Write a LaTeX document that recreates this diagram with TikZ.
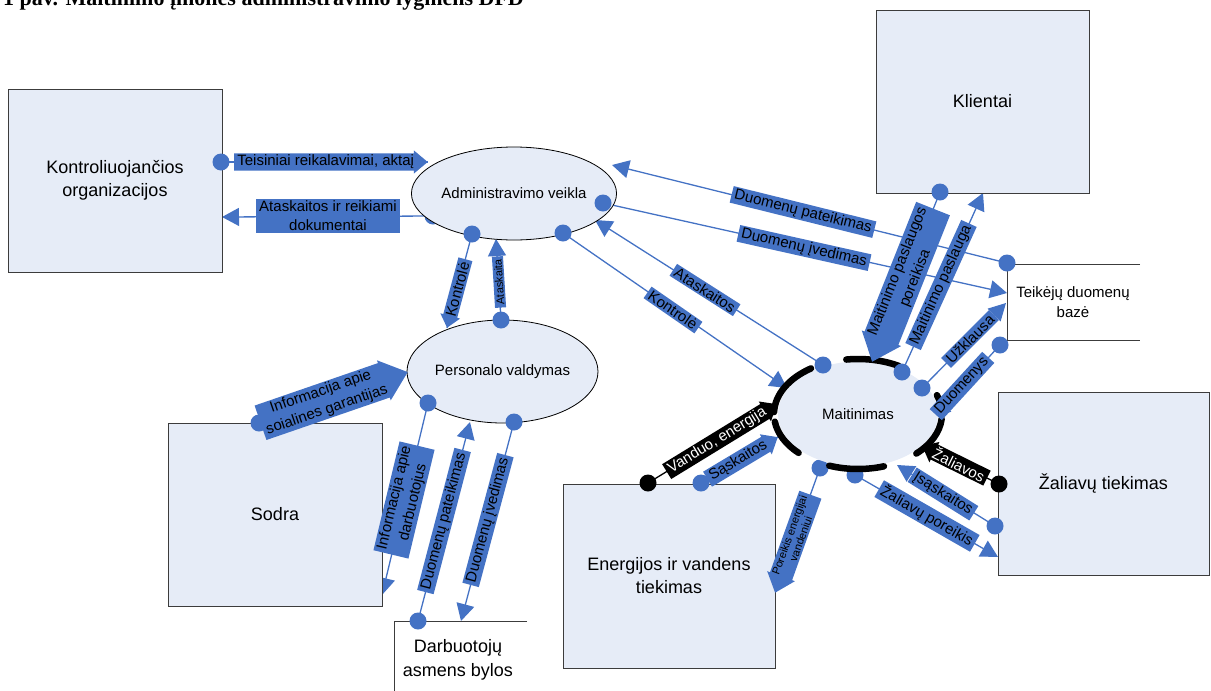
\documentclass[tikz,border=0pt]{standalone}
\usepackage{fontspec}
\setmainfont{Liberation Sans}
\newfontfamily\captionserif{Liberation Serif}
\usetikzlibrary{shapes.arrows,shapes.geometric,arrows.meta}
\definecolor{flowblue}{HTML}{4472C4}
\definecolor{entityfill}{HTML}{E6ECF7}
\definecolor{entityedge}{HTML}{3C3C3C}
\pgfdeclarelayer{flows}
\pgfsetlayers{flows,main}

\tikzset{
  entity/.style={draw=entityedge, line width=1pt, fill=entityfill, align=center,
    font=\fontsize{18}{23}\selectfont, inner sep=0pt},
  process/.style={ellipse, draw=black, line width=0.8pt, fill=entityfill,
    font=\fontsize{15}{18}\selectfont, inner sep=0pt},
  storeline/.style={draw=entityedge, line width=1pt},
  dot/.style={circle, fill=flowblue, minimum size=17pt, inner sep=0pt},
  blackdot/.style={circle, fill=black, minimum size=17pt, inner sep=0pt},
  flow/.style={draw=flowblue, line width=1.3pt},
  darkflow/.style={draw=black, line width=1.3pt},
  flowarrow/.style={flow, -{Triangle[length=17pt,width=18pt]}},
  tag/.style={fill=flowblue, text=black, inner xsep=3pt, inner ysep=1.5pt,
    align=center, font=\fontsize{15}{19}\selectfont},
  tagarrow/.style={single arrow, fill=flowblue, text=black, inner xsep=3pt,
    inner ysep=1.5pt, single arrow head extend=3pt, single arrow tip angle=80,
    align=center, font=\fontsize{15}{19}\selectfont},
  smalltext/.style={font=\fontsize{11}{12}\selectfont},
  rim/.style={draw=black, line width=6.5pt, line cap=round},
}

\begin{document}
\begin{tikzpicture}[x=1pt,y=-1pt]
\useasboundingbox (0,0) rectangle (1211,691);
\clip (0,0) rectangle (1211,691);

% caption line at the top edge
\node[anchor=base west, inner sep=0pt,
      font=\captionserif\bfseries\fontsize{22}{24}\selectfont]
  (caption) at (3,5) {1 pav. Maitinimo įmonės administravimo lygmens DFD};

% ---------- end points of the flows ----------
\coordinate (tA1) at (428,162);
\coordinate (tK1) at (222,217);
\coordinate (tP1) at (447,328);
\coordinate (tA5) at (496,239);
\coordinate (tP4) at (408,372);
\coordinate (tS2) at (382,595);
\coordinate (tP5) at (470,422);
\coordinate (tD2) at (461,621);
\coordinate (tA6) at (612,165);
\coordinate (tT3) at (1007,293);
\coordinate (tA7) at (595,220);
\coordinate (tM6) at (787,388);
\coordinate (tM7) at (872,362);
\coordinate (tC2) at (983,193);
\coordinate (tT4) at (1006,303);
\coordinate (tM8) at (933,418);
\coordinate (tM9) at (922,446);
\coordinate (tM10) at (897,465);
\coordinate (tZ3) at (998,557);
\coordinate (tE3) at (775,593);
\coordinate (tM11) at (777,404);
\coordinate (tM12) at (778,437);

% ---------- dots hidden partly behind the processes ----------
\node[dot] (dA2) at (433,216) {};
\node[dot] (dM4) at (855,475) {};
\node[dot] (dM5) at (820,468) {};

% ---------- external entities ----------
\node[entity, minimum width=214pt, minimum height=183pt] (kontr) at (115,180.5)
  {Kontroliuojančios\\organizacijos};
\node[entity, minimum width=213pt, minimum height=183pt] (klient) at (982.5,101.5)
  {Klientai};
\node[entity, minimum width=214pt, minimum height=183pt] (sodra) at (275,514.5)
  {Sodra};
\node[entity, minimum width=212pt, minimum height=184pt] (energ) at (669,576)
  {Energijos ir vandens\\tiekimas};
\node[entity, minimum width=211pt, minimum height=183pt] (zaliav) at (1103.5,483.5)
  {Žaliavų tiekimas};

% ---------- data stores ----------
\draw[storeline] (1140,264) -- (1007,264) -- (1007,340) -- (1140,340);
\node[align=center, font=\fontsize{15}{20}\selectfont] (teik) at (1073,302)
  {Teikėjų duomenų\\bazė};
\draw[storeline] (527,621) -- (394,621) -- (394,695);
\node[align=center, font=\fontsize{18}{24}\selectfont] (darb) at (458,660)
  {Darbuotojų\\asmens bylos};

% ---------- processes ----------
\node[process, minimum width=186pt, minimum height=93pt] (admin) at (514,193.5)
  {Administravimo veikla};
\node[process, minimum width=189pt, minimum height=103pt] (pers) at (502.5,371.5)
  {Personalo valdymas};
\node[process, draw=none, minimum width=160pt, minimum height=105pt] (mait) at (858,414)
  {Maitinimas};

% broken heavy rim of the central process
\draw[rim] (mait.center) ++(61:84pt and 55pt)
  arc[start angle=61, end angle=98, x radius=84pt, y radius=55pt];
\draw[rim] (mait.center) ++(124:84pt and 55pt)
  arc[start angle=124, end angle=178, x radius=84pt, y radius=55pt];
\draw[rim] (mait.center) ++(188:84pt and 55pt)
  arc[start angle=188, end angle=225, x radius=84pt, y radius=55pt];
\draw[rim] (mait.center) ++(250:84pt and 55pt)
  arc[start angle=250, end angle=288, x radius=84pt, y radius=55pt];
\draw[rim] (mait.center) ++(-46:84pt and 55pt)
  arc[start angle=-46, end angle=-5, x radius=84pt, y radius=55pt];
\draw[rim] (mait.center) ++(3:84pt and 55pt)
  arc[start angle=3, end angle=20, x radius=84pt, y radius=55pt];

% ---------- flow labels ----------
\node[tagarrow, anchor=tip] (l1) at (tA1) {Teisiniai reikalavimai, aktaį};
\node[tag] (l2) at (328,216) {Ataskaitos ir reikiami\\dokumentai};
\node[tagarrow, rotate=75, shape border rotate=180, anchor=tip] (l3) at (tP1) {Kontrolė};
\node[tag, smalltext, rotate=93.5] (l4) at (499,282) {Ataskaita};
\node[tagarrow, rotate=19, anchor=tip] (l5) at (tP4) {Informacija apie\\soialines garantijas};
\node[tag, rotate=76.5] (l6) at (404,500) {Informacija apie\\darbuotojus};
\node[tag, rotate=75.3] (l7) at (444,521) {Duomenų pateikimas};
\node[tag, rotate=75] (l8) at (488,520) {Duomenų įvedimas};
\node[tag, rotate=-13.9] (l9) at (803,212) {Duomenų pateikimas};
\node[tag, rotate=-12.6] (l10) at (804,248) {Duomenų įvedimas};
\node[tag, rotate=-32.5] (l11) at (705,290) {Ataskaitos};
\node[tag, rotate=-34.7] (l12) at (673,310) {Kontrolė};
\node[tagarrow, rotate=68.3, shape border rotate=180, anchor=tip] (l13) at (tM7)
  {Maitinimo paslaugos\\poreikisa};
\node[tag, rotate=65.6] (l14) at (941,285) {Maitinimo paslauga};
\node[tag, rotate=45] (l15) at (970,339) {Užklausa};
\node[tag, rotate=47.5] (l16) at (962,386) {Duomenys};
\node[tagarrow, fill=black, text=white, rotate=-26.3, shape border rotate=180, anchor=tip]
  (l17) at (tM9) {Žaliavos};
\node[tag, rotate=-32] (l18) at (943,494) {Įsąskaitos};
\node[tag, rotate=-29.8] (l19) at (927,516) {Žaliavų poreikis};
\node[tagarrow, smalltext, rotate=70.2, shape border rotate=180, anchor=tip] (l20) at (tE3)
  {Poreikis energijai\\vandeniui};
\node[tagarrow, fill=black, text=white, rotate=31.5, anchor=tip] (l21) at (tM11)
  {Vanduo, energija};
\node[tagarrow, rotate=30.9, anchor=tip] (l22) at (tM12) {Sąskaitos};

% ---------- flow sources ----------
\node[dot] (dA1) at (221,162) {};
\node[dot] (dK1) at (472,234) {};
\node[dot] (dP1) at (501,320) {};
\node[dot] (dS1) at (259,423) {};
\node[dot] (dP2) at (428,403) {};
\node[dot] (dD1) at (418,621) {};
\node[dot] (dP3) at (514,422) {};
\node[dot] (dT1) at (1007,263) {};
\node[dot] (dA3) at (603,203) {};
\node[dot] (dM1) at (823,365) {};
\node[dot] (dA4) at (563,233) {};
\node[dot] (dC1) at (940,192) {};
\node[dot] (dM2) at (902,372) {};
\node[dot] (dM3) at (922,388) {};
\node[dot] (dT2) at (1000,345) {};
\node[blackdot] (dZ1) at (999,484) {};
\node[dot] (dZ2) at (995,526) {};
\node[blackdot] (dE1) at (648,483) {};
\node[dot] (dE2) at (701,483) {};

% ---------- flows ----------
\begin{pgfonlayer}{flows}
\draw[flow] (dA1.center) -- (tA1);
\draw[flowarrow] (dA2.center) -- (tK1);
\draw[flow] (dK1.center) -- (tP1);
\draw[flowarrow] (dP1.center) -- (tA5);
\draw[flow] (dS1.center) -- (tP4);
\draw[flowarrow] (dP2.center) -- (tS2);
\draw[flowarrow] (dD1.center) -- (tP5);
\draw[flowarrow] (dP3.center) -- (tD2);
\draw[flowarrow] (dT1.center) -- (tA6);
\draw[flowarrow] (dA3.center) -- (tT3);
\draw[flowarrow] (dM1.center) -- (tA7);
\draw[flowarrow] (dA4.center) -- (tM6);
\draw[flow] (dC1.center) -- (tM7);
\draw[flowarrow] (dM2.center) -- (tC2);
\draw[flowarrow] (dM3.center) -- (tT4);
\draw[flowarrow] (dT2.center) -- (tM8);
\draw[darkflow] (dZ1.center) -- (tM9);
\draw[flowarrow] (dZ2.center) -- (tM10);
\draw[flowarrow] (dM4.center) -- (tZ3);
\draw[flow] (dM5.center) -- (tE3);
\draw[darkflow] (dE1.center) -- (tM11);
\draw[flow] (dE2.center) -- (tM12);
\end{pgfonlayer}
\end{tikzpicture}
\end{document}
